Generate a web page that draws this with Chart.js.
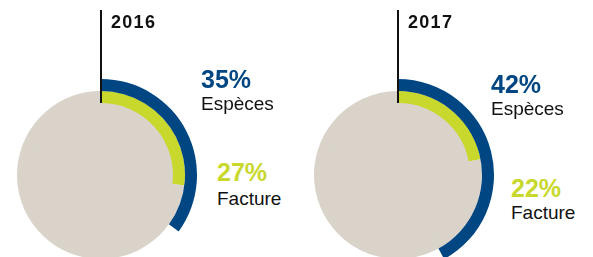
<!DOCTYPE html>
<html>
<head>
<meta charset="utf-8">
<script src="https://cdn.jsdelivr.net/npm/chart.js@4/dist/chart.umd.min.js"></script>
<style>
  html, body { margin: 0; padding: 0; background: #fff; overflow: hidden; }
  body { width: 593px; height: 257px; position: relative; font-family: 'Liberation Sans', Arial, sans-serif; }
  .pie { position: absolute; top: 79px; width: 192px; height: 192px; }
  .stem { position: absolute; top: 10px; width: 2px; height: 93px; background: #111; }
  .year { position: absolute; top: 13px; font-size: 18px; line-height: 18px; font-weight: bold; letter-spacing: 1.3px; color: #111; }
  .pct { position: absolute; font-size: 25px; line-height: 25px; font-weight: bold; }
  .lbl { position: absolute; font-size: 19px; line-height: 19px; color: #111; }
</style>
</head>
<body>
<script>
const years = ['2016', '2017'];
const seriesNames = ['Espèces', 'Facture'];
const especes = [35, 42];
const facture = [27, 22];

const BLUE = '#004683';
const GREEN = '#c8d82d';
const BEIGE = '#d9d3ca';

// placement of each year's pie and its labels
const layout = [
  { cx: 101, pctTop: [67, 160], lblTop: [94, 189], textX: [201, 217] },
  { cx: 398, pctTop: [72, 176], lblTop: [99, 203], textX: [491, 511] }
];

function addDiv(cls, text, left, top, color) {
  const d = document.createElement('div');
  d.className = cls;
  d.textContent = text;
  d.style.left = left + 'px';
  d.style.top = top + 'px';
  if (color) d.style.color = color;
  document.body.appendChild(d);
  return d;
}

years.forEach((year, i) => {
  const L = layout[i];
  const canvas = document.createElement('canvas');
  canvas.className = 'pie';
  canvas.style.left = (L.cx - 96) + 'px';
  document.body.appendChild(canvas);

  new Chart(canvas.getContext('2d'), {
    type: 'doughnut',
    data: {
      labels: [seriesNames[0], seriesNames[1], ''],
      datasets: [
        {
          data: [especes[i], 100 - especes[i]],
          backgroundColor: [BLUE, 'rgba(0,0,0,0)'],
          borderWidth: 0,
          weight: 12
        },
        {
          data: [facture[i], 100 - facture[i]],
          backgroundColor: [GREEN, BEIGE],
          borderWidth: 0,
          weight: 12
        },
        {
          // plain disc under the rings; border hides the seam
          data: [100],
          backgroundColor: [BEIGE],
          borderColor: BEIGE,
          borderWidth: 2,
          weight: 72
        }
      ]
    },
    options: {
      responsive: false,
      animation: false,
      events: [],
      cutout: 0,
      radius: 96,
      layout: { padding: 0 },
      plugins: { legend: { display: false }, tooltip: { enabled: false } }
    }
  });

  const stem = document.createElement('div');
  stem.className = 'stem';
  stem.style.left = (L.cx - 1) + 'px';
  document.body.appendChild(stem);

  addDiv('year', year, L.cx + 10, 13);
  addDiv('pct', especes[i] + '%', L.textX[0], L.pctTop[0], BLUE);
  addDiv('lbl', seriesNames[0], L.textX[0], L.lblTop[0]);
  addDiv('pct', facture[i] + '%', L.textX[1], L.pctTop[1], GREEN);
  addDiv('lbl', seriesNames[1], L.textX[1], L.lblTop[1]);
});
</script>
</body>
</html>
